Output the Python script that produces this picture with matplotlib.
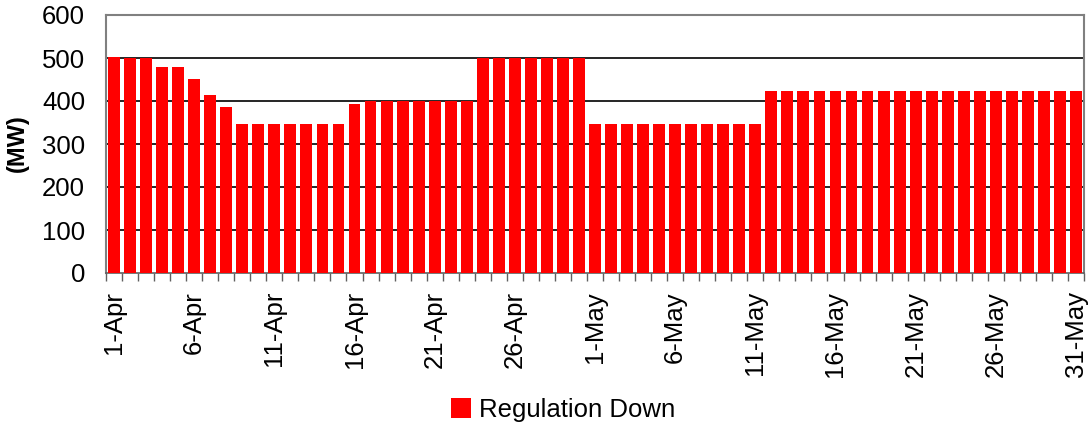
import matplotlib
matplotlib.use("Agg")
import matplotlib.pyplot as plt
import numpy as np

plt.rcParams['font.family'] = ['Liberation Sans', 'DejaVu Sans']

days = ["1-Apr", "2-Apr", "3-Apr", "4-Apr", "5-Apr", "6-Apr", "7-Apr", "8-Apr", "9-Apr", "10-Apr",
        "11-Apr", "12-Apr", "13-Apr", "14-Apr", "15-Apr", "16-Apr", "17-Apr", "18-Apr", "19-Apr", "20-Apr",
        "21-Apr", "22-Apr", "23-Apr", "24-Apr", "25-Apr", "26-Apr", "27-Apr", "28-Apr", "29-Apr", "30-Apr",
        "1-May", "2-May", "3-May", "4-May", "5-May", "6-May", "7-May", "8-May", "9-May", "10-May",
        "11-May", "12-May", "13-May", "14-May", "15-May", "16-May", "17-May", "18-May", "19-May", "20-May",
        "21-May", "22-May", "23-May", "24-May", "25-May", "26-May", "27-May", "28-May", "29-May", "30-May",
        "31-May"]

regulation_down = [503, 500, 500, 478, 478, 450, 415, 385, 347, 347,
                   347, 347, 347, 347, 347, 392, 400, 400, 400, 400,
                   400, 400, 400, 500, 500, 500, 500, 500, 500, 500,
                   347, 347, 347, 347, 347, 347, 347, 347, 347, 347,
                   347, 424, 424, 424, 424, 424, 424, 424, 424, 424,
                   424, 424, 424, 424, 424, 424, 424, 424, 424, 424,
                   424]

y_ticks = [0, 100, 200, 300, 400, 500, 600]

fig = plt.figure(figsize=(10.88, 4.24), dpi=100)
ax = fig.add_axes([106 / 1088, 1 - 273 / 424, (1084 - 106) / 1088, (273 - 15) / 424])

x = np.arange(len(days))
bars = ax.bar(x, regulation_down, width=0.74, color='#ff0000', zorder=3, label='Regulation Down')

ax.set_xlim(-0.5, len(days) - 0.5)
ax.set_ylim(0, 600)
ax.set_yticks(y_ticks)
ax.set_yticklabels([str(v) for v in y_ticks], fontsize=18.5)
ax.tick_params(axis='y', length=0, pad=15)

for v in y_ticks[1:-1]:
    ax.axhline(v, color='black', linewidth=1.2, zorder=1)

# labels every fifth day, tick marks at category boundaries
ax.set_xticks(x[::5])
ax.set_xticklabels(days[::5], rotation=90, fontsize=18.5)
ax.tick_params(axis='x', which='major', length=0, pad=13)
ax.set_xticks(np.arange(-0.5, len(days)), minor=True)
ax.tick_params(axis='x', which='minor', length=6, width=1, color='#606060', direction='out')

for side in ['top', 'right', 'left']:
    ax.spines[side].set_color('#808080')
    ax.spines[side].set_linewidth(1.5)
ax.spines['bottom'].set_color('#606060')
ax.spines['bottom'].set_linewidth(1.2)

fig.text(17.5 / 1088, 1 - 143 / 424, '(MW)', rotation=90, ha='center', va='center',
         fontsize=17, fontweight='bold')

fig.legend(handles=[bars], loc='center', bbox_to_anchor=(563 / 1088, 1 - 410 / 424),
           frameon=False, fontsize=18.5, handlelength=0.8, handleheight=0.8,
           handletextpad=0.3, borderpad=0)

fig.savefig('out.png', dpi=100)
